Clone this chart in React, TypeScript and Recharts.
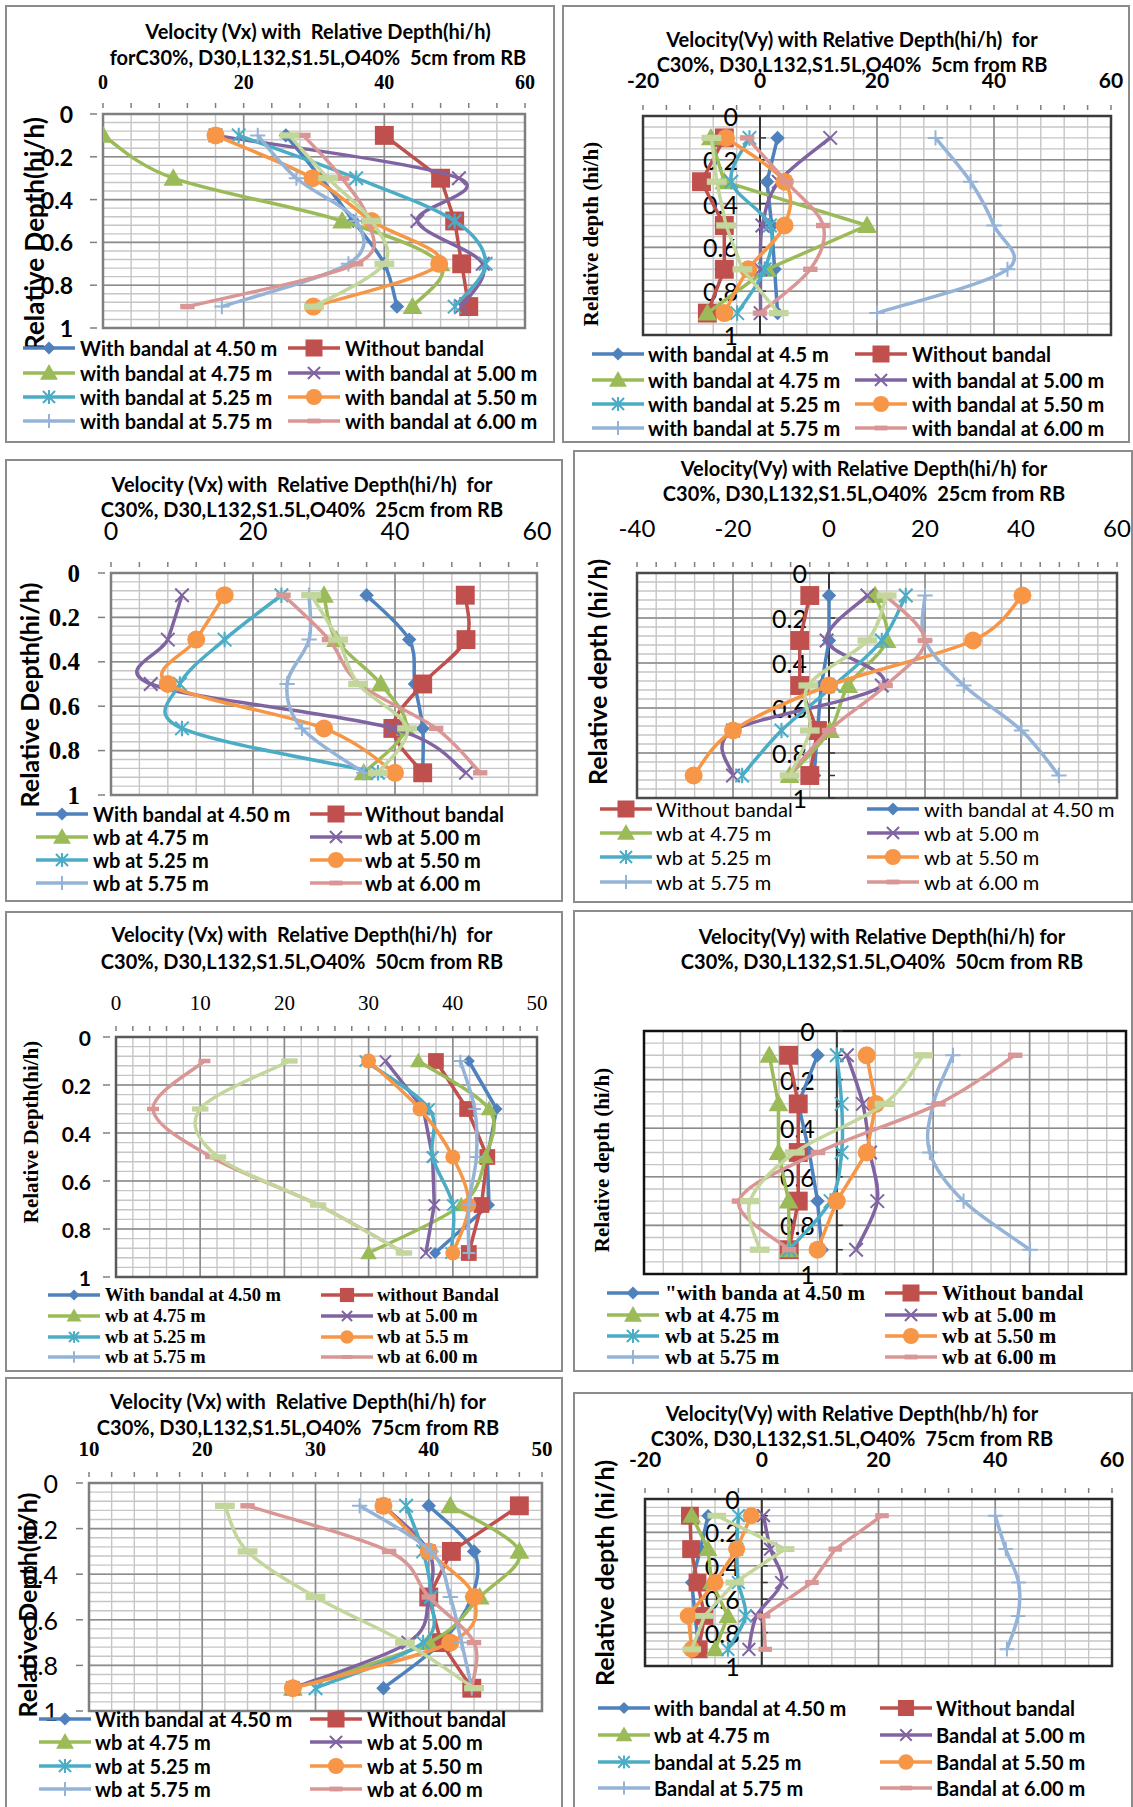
import React from "react";
import {
  CartesianGrid,
  ReferenceArea,
  ReferenceDot,
  ReferenceLine,
  Scatter,
  ScatterChart,
  XAxis,
  YAxis,
} from "recharts";

// Measuring depths (hi/h) shared by every profile
const DEPTHS = [0.1, 0.3, 0.5, 0.7, 0.9];

// Rows follow SERIES order: 4.50, without, 4.75, 5.00, 5.25, 5.50, 5.75, 6.00, extra run
const VX_5CM = [
  [26, 31, 35.6, 40, 41.8],
  [40, 48, 50, 51, 52],
  [0, 10, 34, 48, 44],
  [16, 50.6, 44.7, 54, 51],
  [19.3, 36, 50, 54.4, 50],
  [16, 29.8, 38.2, 47.8, 29.9],
  [22, 27.5, 36, 34.9, 16.9],
  [28.5, 34, 37.7, 36, 12],
  [26.5, 32, 38.2, 40, 30],
];

const VY_5CM = [
  [3, 1.2, 2, 2.5, 3],
  [-6.1, -10, -6.1, -6.1, -9],
  [-8.4, -6.1, 18.3, 1.2, -9],
  [12, 3.2, 0.4, 0.1, 0.1],
  [-1.8, -4.9, 1.7, 0.8, -3.9],
  [-5.8, 4.2, 4.2, -2, -6.1],
  [30, 36, 40, 42.3, 20],
  [-2.2, 4.5, 10.8, 8.6, 0],
  [-8.3, -7.4, -5.8, -3, 3.2],
];

const VX_25CM = [
  [36, 42, 42.8, 43.9, 43.9],
  [49.9, 50, 43.9, 39.7, 43.9],
  [30, 31.7, 38, 41.5, 35.6],
  [10, 8, 5.6, 39.7, 50],
  [24, 16, 9.7, 10, 37.6],
  [16, 12, 8, 30, 40],
  [27.9, 27.9, 24.8, 26.9, 35.6],
  [24.3, 30.7, 35, 45.8, 52],
  [28.2, 32, 34.8, 41.7, 37.6],
];

const VY_25CM = [
  [0, 0, -1.6, -2.4, -3.1],
  [-4, -6.1, -6.1, -2.4, -4],
  [9.6, 12, 4, 0.2, -8.2],
  [8, -0.5, 11, -20, -20],
  [16, 11, 1, -9.9, -18.1],
  [40.3, 30, 0, -20, -28.2],
  [20, 20, 28.1, 40.1, 47.9],
  [11.8, 20, 11.8, 0, -8.4],
  [12, 8, -4.3, -4, -8.2],
];

const VX_50CM = [
  [41.9, 45.2, 44.1, 44.3, 37.9],
  [38, 41.7, 44.1, 43.4, 41.9],
  [35.9, 44.3, 43.9, 41, 30],
  [32, 36.5, 37.6, 37.8, 36.8],
  [29.6, 37.2, 37.6, 40, 39.8],
  [30, 36.1, 40, 41.9, 40],
  [40.9, 42.6, 42.8, 41.9, 41.9],
  [10.5, 4.4, 11.3, 24, 34.2],
  [20.6, 10, 12.1, 24, 34.2],
];

const VY_50CM = [
  [-4, -8, -5.7, -4, -3.1],
  [-10, -8, -8, -8, -9.9],
  [-14, -12.1, -12.1, -10, -9.9],
  [2.1, 5.4, 6.9, 8.4, 4],
  [0, 1, 1, -1.3, -9.9],
  [6.2, 8.1, 6.2, 0, -4],
  [24.1, 20, 19.3, 26.3, 40.1],
  [37, 21.1, -3.9, -20.3, -9.9],
  [17.9, 9.9, -8.7, -18, -16],
];

const VX_75CM = [
  [40, 44, 43.8, 41.1, 36],
  [48, 42, 40, 41.1, 43.8],
  [41.9, 48, 44.5, 40, 28],
  [36, 40, 40, 38.2, 28],
  [38, 39.5, 40.2, 39.5, 30],
  [36, 40, 44, 41.9, 28],
  [33.9, 40.2, 41.9, 42.9, 43.8],
  [24, 36.5, 40, 44, 43.8],
  [22, 24, 30, 37.9, 44],
];

const VY_75CM = [
  [-9.2, -10.5, -12, -11.4, -10.8],
  [-12.3, -12.1, -11, -9.8, -10.8],
  [-12, -9.2, -8.6, -5.8, -8],
  [0.3, 1.5, 3.4, -0.9, -2.2],
  [-4, -4.3, -4, -2.8, -5.8],
  [-1.8, -4.3, -8, -12.6, -12],
  [40, 41.8, 44, 43.9, 42],
  [20.6, 12.6, 8.6, 0.3, 0.6],
  [-7.7, 4, -4.6, -9.8, -12],
];

// Legend captions, same order as the value rows (the extra run has none)
const NAMES_VX_5 = [
  "With bandal at 4.50 m", "Without bandal", "with bandal at 4.75 m", "with bandal at 5.00 m",
  "with bandal at 5.25 m", "with bandal at 5.50 m", "with bandal at 5.75 m", "with bandal at 6.00 m",
];
const NAMES_VY_5 = [
  "with bandal at 4.5 m", "Without bandal", "with bandal at 4.75 m", "with bandal at 5.00 m",
  "with bandal at 5.25 m", "with bandal at 5.50 m", "with bandal at 5.75 m", "with bandal at 6.00 m",
];
const NAMES_VX_25 = [
  "With bandal at 4.50 m", "Without bandal", "wb at 4.75 m", "wb at 5.00 m",
  "wb at 5.25 m", "wb at 5.50 m", "wb at 5.75 m", "wb at 6.00 m",
];
const NAMES_VY_25 = [
  "with bandal at 4.50 m", "Without bandal", "wb at 4.75 m", "wb at 5.00 m",
  "wb at 5.25 m", "wb at 5.50 m", "wb at 5.75 m", "wb at 6.00 m",
];
const NAMES_VX_50 = [
  "With bandal at 4.50 m", "without Bandal", "wb at 4.75 m", "wb at 5.00 m",
  "wb at 5.25 m", "wb at 5.5 m", "wb at 5.75 m", "wb at 6.00 m",
];
const NAMES_VY_50 = [
  "\"with banda at 4.50 m", "Without bandal", "wb at 4.75 m", "wb at 5.00 m",
  "wb at 5.25 m", "wb at 5.50 m", "wb at 5.75 m", "wb at 6.00 m",
];
const NAMES_VX_75 = [
  "With bandal at 4.50 m", "Without bandal", "wb at 4.75 m", "wb at 5.00 m",
  "wb at 5.25 m", "wb at 5.50 m", "wb at 5.75 m", "wb at 6.00 m",
];
const NAMES_VY_75 = [
  "with bandal at 4.50 m", "Without bandal", "wb at 4.75 m", "Bandal at 5.00 m",
  "bandal at 5.25 m", "Bandal at 5.50 m", "Bandal at 5.75 m", "Bandal at 6.00 m",
];

const COLORS = ["#4F81BD", "#C0504D", "#9BBB59", "#8064A2", "#4BACC6", "#F79646", "#95B3D7", "#D99694", "#C3D69B"];
const MARKERS = ["diamond", "square", "triangle", "x", "star", "circle", "plus", "dash", "bar"];

const SANS = "Lato, 'Liberation Sans', sans-serif";
const SERIF = "'Liberation Serif', 'DejaVu Serif', serif";
const BORDER = 2;
const LINE_W = 3.5;

type TextStyle = { family: string; size: number; bold: boolean };
const ts = (family: string, size: number, bold: boolean): TextStyle => ({ family, size, bold });
const css = (t: TextStyle) => ({ fontFamily: t.family, fontSize: t.size, fontWeight: t.bold ? 700 : 400 });

type PanelSpec = {
  box: number[]; // left, top, width, height (page px)
  plot: number[]; // left, right, top, bottom (page px)
  xDomain: [number, number];
  xMajor: number;
  xMinor: number;
  yMinor: number;
  values: number[][];
  smooth: number[];
  names: string[];
  legendOrder: number[];
  title: string[];
  titleX: number;
  titleY: number[];
  xTicks: TextStyle | null;
  xTickGap: number;
  yTicks: TextStyle;
  yTickGap: number;
  crossAtZero: boolean;
  yTitle: string;
  yTitleStyle: TextStyle;
  yTitlePos: number[];
  legendStyle: TextStyle;
  legendRows: number[];
  legendCols: number[][];
  frame: string;
  markerSize: number;
};

const ORDER = [0, 1, 2, 3, 4, 5, 6, 7];

const PANELS: PanelSpec[] = [
  {
    box: [5, 5, 550, 438], plot: [103, 525, 114, 328],
    xDomain: [0, 60], xMajor: 20, xMinor: 4, yMinor: 0.04,
    values: VX_5CM, smooth: [1, 0, 1, 1, 1, 1, 1, 1, 1], names: NAMES_VX_5, legendOrder: ORDER,
    title: ["Velocity (Vx) with  Relative Depth(hi/h)", "forC30%, D30,L132,S1.5L,O40%  5cm from RB"],
    titleX: 318, titleY: [31, 57],
    xTicks: ts(SERIF, 20, true), xTickGap: 26, yTicks: ts(SANS, 23, true), yTickGap: 24, crossAtZero: false,
    yTitle: "Relative Depth(hi/h)", yTitleStyle: ts(SANS, 26, true), yTitlePos: [34, 234],
    legendStyle: ts(SANS, 20, true), legendRows: [348, 373, 397, 421], legendCols: [[22, 80], [287, 345]],
    frame: "#7F7F7F", markerSize: 18,
  },
  {
    box: [562, 5, 568, 438], plot: [643, 1111, 116, 335],
    xDomain: [-20, 60], xMajor: 20, xMinor: 4, yMinor: 0.05,
    values: VY_5CM, smooth: [0, 0, 0, 1, 1, 1, 1, 1, 0], names: NAMES_VY_5, legendOrder: ORDER,
    title: ["Velocity(Vy) with Relative Depth(hi/h)  for", "C30%, D30,L132,S1.5L,O40%  5cm from RB"],
    titleX: 852, titleY: [39, 64],
    xTicks: ts(SANS, 21, true), xTickGap: 31, yTicks: ts(SANS, 25, false), yTickGap: 22, crossAtZero: true,
    yTitle: "Relative depth (hi/h)", yTitleStyle: ts(SERIF, 21, true), yTitlePos: [591, 234],
    legendStyle: ts(SANS, 20, true), legendRows: [354, 380, 404, 428], legendCols: [[591, 648], [854, 912]],
    frame: "#3A3A3A", markerSize: 18,
  },
  {
    box: [5, 459, 558, 443], plot: [111, 537, 573, 795],
    xDomain: [0, 60], xMajor: 20, xMinor: 4, yMinor: 0.04,
    values: VX_25CM, smooth: [1, 1, 1, 1, 1, 1, 1, 1, 1], names: NAMES_VX_25, legendOrder: ORDER,
    title: ["Velocity (Vx) with  Relative Depth(hi/h)  for", "C30%, D30,L132,S1.5L,O40%  25cm from RB"],
    titleX: 302, titleY: [484, 509],
    xTicks: ts(SANS, 25, false), xTickGap: 37.5, yTicks: ts(SERIF, 25, true), yTickGap: 25, crossAtZero: false,
    yTitle: "Relative Depth(hi/h)", yTitleStyle: ts(SANS, 25, true), yTitlePos: [29, 695],
    legendStyle: ts(SANS, 20, true), legendRows: [814, 837, 860, 883], legendCols: [[35, 93], [309, 365]],
    frame: "#7F7F7F", markerSize: 18,
  },
  {
    box: [573, 450, 560, 453], plot: [637, 1117, 573, 798],
    xDomain: [-40, 60], xMajor: 20, xMinor: 4, yMinor: 0.04,
    values: VY_25CM, smooth: [0, 0, 1, 1, 1, 1, 1, 1, 1], names: NAMES_VY_25, legendOrder: [1, 0, 2, 3, 4, 5, 6, 7],
    title: ["Velocity(Vy) with Relative Depth(hi/h) for", "C30%, D30,L132,S1.5L,O40%  25cm from RB"],
    titleX: 864, titleY: [468, 493],
    xTicks: ts(SANS, 24, false), xTickGap: 39.5, yTicks: ts(SANS, 25, false), yTickGap: 22, crossAtZero: true,
    yTitle: "Relative depth (hi/h)", yTitleStyle: ts(SANS, 25, true), yTitlePos: [597, 672],
    legendStyle: ts(SANS, 20, false), legendRows: [809, 833, 857, 882], legendCols: [[599, 656], [866, 924]],
    frame: "#4A4A4A", markerSize: 18,
  },
  {
    box: [5, 911, 558, 461], plot: [116, 537, 1037, 1277],
    xDomain: [0, 50], xMajor: 10, xMinor: 2, yMinor: 0.04,
    values: VX_50CM, smooth: [0, 0, 1, 0, 1, 1, 1, 1, 1], names: NAMES_VX_50, legendOrder: ORDER,
    title: ["Velocity (Vx) with  Relative Depth(hi/h)  for", "C30%, D30,L132,S1.5L,O40%  50cm from RB"],
    titleX: 302, titleY: [934, 961],
    xTicks: ts(SERIF, 21, false), xTickGap: 28.5, yTicks: ts(SANS, 21, true), yTickGap: 19, crossAtZero: false,
    yTitle: "Relative Depth(hi/h)", yTitleStyle: ts(SERIF, 21, true), yTitlePos: [31, 1132],
    legendStyle: ts(SERIF, 18.5, true), legendRows: [1295, 1316, 1337, 1357], legendCols: [[47, 105], [320, 377]],
    frame: "#5A5A5A", markerSize: 15,
  },
  {
    box: [573, 910, 560, 462], plot: [644, 1126, 1031, 1274],
    xDomain: [-40, 60], xMajor: 20, xMinor: 4, yMinor: 0.05,
    values: VY_50CM, smooth: [0, 0, 0, 1, 1, 0, 1, 1, 1], names: NAMES_VY_50, legendOrder: ORDER,
    title: ["Velocity(Vy) with Relative Depth(hi/h) for", "C30%, D30,L132,S1.5L,O40%  50cm from RB"],
    titleX: 882, titleY: [936, 961],
    xTicks: null, xTickGap: 0, yTicks: ts(SANS, 25, false), yTickGap: 22, crossAtZero: true,
    yTitle: "Relative depth (hi/h)", yTitleStyle: ts(SERIF, 21, true), yTitlePos: [602, 1160],
    legendStyle: ts(SERIF, 21, true), legendRows: [1293, 1315, 1336, 1357], legendCols: [[606, 665], [884, 942]],
    frame: "#111111", markerSize: 18,
  },
  {
    box: [5, 1377, 558, 434], plot: [89, 542, 1483, 1711],
    xDomain: [10, 50], xMajor: 10, xMinor: 2, yMinor: 0.04,
    values: VX_75CM, smooth: [1, 0, 1, 1, 1, 1, 1, 1, 1], names: NAMES_VX_75, legendOrder: ORDER,
    title: ["Velocity (Vx) with  Relative Depth(hi/h) for", "C30%, D30,L132,S1.5L,O40%  75cm from RB"],
    titleX: 298, titleY: [1401, 1427],
    xTicks: ts(SERIF, 21, true), xTickGap: 28, yTicks: ts(SANS, 25, false), yTickGap: 25, crossAtZero: false,
    yTitle: "Relative Depth(hi/h)", yTitleStyle: ts(SANS, 25, true), yTitlePos: [27, 1605],
    legendStyle: ts(SANS, 20, true), legendRows: [1719, 1742, 1766, 1789], legendCols: [[38, 95], [309, 367]],
    frame: "#7F7F7F", markerSize: 18,
  },
  {
    box: [573, 1392, 560, 419], plot: [645, 1112, 1499, 1666],
    xDomain: [-20, 60], xMajor: 20, xMinor: 4, yMinor: 0.05,
    values: VY_75CM, smooth: [0, 0, 0, 1, 1, 0, 1, 0, 0], names: NAMES_VY_75, legendOrder: ORDER,
    title: ["Velocity(Vy) with Relative Depth(hb/h) for", "C30%, D30,L132,S1.5L,O40%  75cm from RB"],
    titleX: 852, titleY: [1413, 1438],
    xTicks: ts(SANS, 21, true), xTickGap: 34.5, yTicks: ts(SANS, 25, false), yTickGap: 22, crossAtZero: true,
    yTitle: "Relative depth (hi/h)", yTitleStyle: ts(SANS, 25, true), yTitlePos: [604, 1573],
    legendStyle: ts(SANS, 20, true), legendRows: [1708, 1735, 1762, 1788], legendCols: [[597, 654], [879, 936]],
    frame: "#2A2A2A", markerSize: 17,
  },
];

const steps = (from: number, to: number, step: number) => {
  const out: number[] = [];
  const n = Math.round((to - from) / step);
  for (let i = 0; i <= n; i++) out.push(+(from + i * step).toFixed(4));
  return out;
};
const isMajor = (v: number, major: number) => Math.abs(v / major - Math.round(v / major)) < 1e-6;
const depthLabel = (v: number) => String(+v.toFixed(2));

// Excel-style smoothed polyline (cardinal spline through every point)
function curvePath(points: { x: number; y: number }[], smooth: boolean) {
  if (!points || !points.length) return "";
  let d = `M${points[0].x},${points[0].y}`;
  for (let i = 0; i < points.length - 1; i++) {
    const p1 = points[i];
    const p2 = points[i + 1];
    if (!smooth) {
      d += `L${p2.x},${p2.y}`;
      continue;
    }
    const p0 = points[i - 1] || p1;
    const p3 = points[i + 2] || p2;
    const c1x = p1.x + (p2.x - p0.x) / 6;
    const c1y = p1.y + (p2.y - p0.y) / 6;
    const c2x = p2.x - (p3.x - p1.x) / 6;
    const c2y = p2.y - (p3.y - p1.y) / 6;
    d += `C${c1x},${c1y} ${c2x},${c2y} ${p2.x},${p2.y}`;
  }
  return d;
}

function Marker({ cx, cy, kind, color, size }: { cx: number; cy: number; kind: string; color: string; size: number }) {
  if (cx == null || cy == null || isNaN(cx) || isNaN(cy)) return null;
  const r = size / 2;
  switch (kind) {
    case "diamond": {
      const d = r * 0.8;
      return <path d={`M${cx},${cy - d}L${cx + d},${cy}L${cx},${cy + d}L${cx - d},${cy}Z`} fill={color} />;
    }
    case "square": {
      const d = r * 1.05;
      return <rect x={cx - d} y={cy - d} width={2 * d} height={2 * d} fill={color} />;
    }
    case "triangle": {
      const d = r * 1.1;
      return <path d={`M${cx},${cy - d}L${cx + d},${cy + d * 0.75}L${cx - d},${cy + d * 0.75}Z`} fill={color} />;
    }
    case "x": {
      const d = r * 0.75;
      return (
        <path d={`M${cx - d},${cy - d}L${cx + d},${cy + d}M${cx - d},${cy + d}L${cx + d},${cy - d}`} stroke={color} strokeWidth={2} />
      );
    }
    case "star": {
      const d = r * 0.75;
      return (
        <path
          d={`M${cx - d},${cy - d}L${cx + d},${cy + d}M${cx - d},${cy + d}L${cx + d},${cy - d}M${cx},${cy - d * 1.15}L${cx},${cy + d * 1.15}`}
          stroke={color}
          strokeWidth={2}
        />
      );
    }
    case "circle":
      return <circle cx={cx} cy={cy} r={r} fill={color} />;
    case "plus": {
      const d = r * 0.85;
      return <path d={`M${cx - d},${cy}L${cx + d},${cy}M${cx},${cy - d}L${cx},${cy + d}`} stroke={color} strokeWidth={2} />;
    }
    case "dash":
      return <rect x={cx - r * 0.8} y={cy - r * 0.3} width={r * 1.6} height={r * 0.6} fill={color} />;
    default:
      return <rect x={cx - r * 1.1} y={cy - r * 0.35} width={r * 2.2} height={r * 0.7} fill={color} />;
  }
}

function Panel({ spec }: { spec: PanelSpec }) {
  const [bx, by, bw, bh] = spec.box;
  const [pl, pr, pt, pb] = spec.plot;
  const ox = bx + BORDER;
  const oy = by + BORDER;
  const w = bw - 2 * BORDER;
  const h = bh - 2 * BORDER;
  // axes take one pixel each, the rest of the gap is chart margin
  const margin = { left: pl - ox - 1, right: w - (pr - ox), top: pt - oy - 1, bottom: h - (pb - oy) };

  const xTicks = steps(spec.xDomain[0], spec.xDomain[1], spec.xMinor);
  const xMajors = steps(spec.xDomain[0], spec.xDomain[1], spec.xMajor);
  const yTicks = steps(0, 1, spec.yMinor);
  const yMajors = steps(0, 1, 0.2);
  const zeroTicks = steps(0, 1, 0.1);

  const renderXTick = (p: any) => {
    const v = p.payload.value;
    const major = isMajor(v, spec.xMajor);
    if (!spec.xTicks) return <g />;
    return (
      <g>
        <line x1={p.x} x2={p.x} y1={p.y} y2={p.y - 5} stroke="#7F7F7F" strokeWidth={1.5} />
        {major && (
          <text x={p.x} y={p.y - spec.xTickGap} textAnchor="middle" dominantBaseline="central" fill="#000" style={css(spec.xTicks)}>
            {v}
          </text>
        )}
      </g>
    );
  };

  const renderYTick = (p: any) => {
    if (spec.crossAtZero) return <g />;
    const v = p.payload.value;
    if (!isMajor(v, 0.2)) return <g />;
    return (
      <g>
        <line x1={p.x - 7} x2={p.x} y1={p.y} y2={p.y} stroke="#7F7F7F" strokeWidth={1.5} />
        <text x={p.x - spec.yTickGap} y={p.y} textAnchor="end" dominantBaseline="central" fill="#000" style={css(spec.yTicks)}>
          {depthLabel(v)}
        </text>
      </g>
    );
  };

  return (
    <div
      style={{
        position: "absolute",
        left: bx,
        top: by,
        width: bw,
        height: bh,
        border: `${BORDER}px solid #8C8C8C`,
        boxSizing: "border-box",
        background: "#fff",
        overflow: "hidden",
      }}
    >
      <ScatterChart width={w} height={h} margin={margin}>
        <CartesianGrid verticalValues={xTicks} horizontalValues={yTicks} stroke="#C6C6C6" strokeWidth={1.4} />
        <CartesianGrid verticalValues={xMajors} horizontalValues={yMajors} stroke="#8C8C8C" strokeWidth={1.6} />
        <XAxis
          type="number"
          dataKey="x"
          orientation="top"
          domain={spec.xDomain}
          ticks={xTicks}
          interval={0}
          height={1}
          allowDataOverflow
          axisLine={false}
          tickLine={false}
          tickMargin={0}
          tick={renderXTick}
        />
        <YAxis
          type="number"
          dataKey="y"
          domain={[0, 1]}
          reversed
          ticks={yTicks}
          interval={0}
          width={1}
          allowDataOverflow
          axisLine={false}
          tickLine={false}
          tickMargin={0}
          tick={renderYTick}
        />
        <ReferenceArea
          x1={spec.xDomain[0]}
          x2={spec.xDomain[1]}
          y1={0}
          y2={1}
          fill="none"
          stroke={spec.frame}
          strokeWidth={2.5}
          ifOverflow="visible"
        />
        {spec.crossAtZero && <ReferenceLine x={0} stroke="#333" strokeWidth={2} />}
        {spec.crossAtZero &&
          zeroTicks.map((v) => (
            <ReferenceDot
              key={`z${v}`}
              x={0}
              y={v}
              r={0}
              ifOverflow="visible"
              shape={(p: any) => (
                <g>
                  <line x1={p.cx} x2={p.cx + 6} y1={p.cy} y2={p.cy} stroke="#333" strokeWidth={1.5} />
                  {isMajor(v, 0.2) && (
                    <text
                      x={p.cx - spec.yTickGap}
                      y={p.cy}
                      textAnchor="end"
                      dominantBaseline="central"
                      fill="#000"
                      style={css(spec.yTicks)}
                    >
                      {depthLabel(v)}
                    </text>
                  )}
                </g>
              )}
            />
          ))}
        {spec.values.map((row, i) => (
          <Scatter
            key={i}
            data={row.map((v, k) => ({ x: v, y: DEPTHS[k] }))}
            fill={COLORS[i]}
            isAnimationActive={false}
            line={(lp: any) => (
              <path
                d={curvePath(lp.points, !!spec.smooth[i])}
                fill="none"
                stroke={COLORS[i]}
                strokeWidth={LINE_W}
                strokeLinejoin="round"
              />
            )}
            shape={(sp: any) => (
              <Marker cx={sp.cx} cy={sp.cy} kind={MARKERS[i]} color={COLORS[i]} size={spec.markerSize} />
            )}
          />
        ))}
      </ScatterChart>

      {spec.title.map((t, k) => (
        <div
          key={k}
          style={{
            position: "absolute",
            left: spec.titleX - ox - 300,
            width: 600,
            top: spec.titleY[k] - oy - 12,
            height: 24,
            lineHeight: "24px",
            textAlign: "center",
            whiteSpace: "pre",
            color: "#000",
            ...css(ts(SANS, 20, true)),
          }}
        >
          {t}
        </div>
      ))}

      <div
        style={{
          position: "absolute",
          left: spec.yTitlePos[0] - ox,
          top: spec.yTitlePos[1] - oy,
          transform: "translate(-50%, -50%) rotate(-90deg)",
          whiteSpace: "nowrap",
          color: "#000",
          ...css(spec.yTitleStyle),
        }}
      >
        {spec.yTitle}
      </div>

      {spec.legendOrder.map((idx, n) => {
        const rowY = spec.legendRows[Math.floor(n / 2)];
        const [lineX, textX] = spec.legendCols[n % 2];
        return (
          <React.Fragment key={`l${n}`}>
            <svg
              width={54}
              height={24}
              style={{ position: "absolute", left: lineX - ox, top: rowY - oy - 12, overflow: "visible" }}
            >
              <line x1={1} x2={53} y1={12} y2={12} stroke={COLORS[idx]} strokeWidth={LINE_W} />
              <Marker cx={27} cy={12} kind={MARKERS[idx]} color={COLORS[idx]} size={spec.markerSize * 0.9} />
            </svg>
            <div
              style={{
                position: "absolute",
                left: textX - ox,
                top: rowY - oy - 12,
                height: 24,
                lineHeight: "24px",
                whiteSpace: "pre",
                color: "#000",
                ...css(spec.legendStyle),
              }}
            >
              {spec.names[idx]}
            </div>
          </React.Fragment>
        );
      })}
    </div>
  );
}

export default function App() {
  return (
    <div style={{ position: "absolute", left: 0, top: 0, width: 1133, height: 1807, background: "#fff", overflow: "hidden" }}>
      {PANELS.map((spec, i) => (
        <Panel key={i} spec={spec} />
      ))}
    </div>
  );
}
